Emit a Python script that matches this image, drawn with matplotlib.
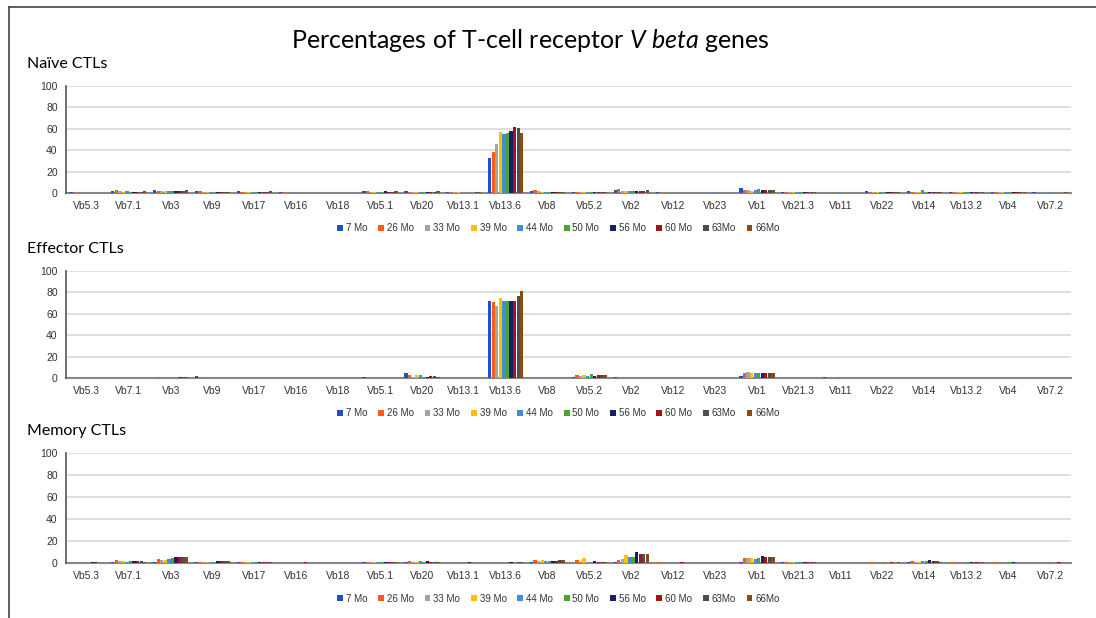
import matplotlib.pyplot as plt
import numpy as np
from matplotlib.lines import Line2D

plt.rcParams['font.family'] = ['Liberation Sans', 'DejaVu Sans']
plt.rcParams['mathtext.fontset'] = 'custom'
plt.rcParams['mathtext.rm'] = 'Lato'
plt.rcParams['mathtext.it'] = 'Lato:italic'

genes = ['Vb5.3', 'Vb7.1', 'Vb3', 'Vb9', 'Vb17', 'Vb16', 'Vb18', 'Vb5.1', 'Vb20',
         'Vb13.1', 'Vb13.6', 'Vb8', 'Vb5.2', 'Vb2', 'Vb12', 'Vb23', 'Vb1', 'Vb21.3',
         'Vb11', 'Vb22', 'Vb14', 'Vb13.2', 'Vb4', 'Vb7.2']
timepoints = ['7 Mo', '26 Mo', '33 Mo', '39 Mo', '44 Mo', '50 Mo', '56 Mo', '60 Mo', '63Mo', '66Mo']
colors = ['#1F4FCC', '#FF5A1A', '#A5A5A5', '#FFC000', '#3C8FE0', '#4CA62E',
          '#14206B', '#A31515', '#4A4F55', '#8B4A12']

# rows = genes, columns = timepoints
naive = np.array([
    [0.5, 0.5, 0.3, 0.3, 0.3, 0.3, 0.3, 0.3, 0.3, 0.3],   # Vb5.3
    [2, 3, 1.5, 1, 1.5, 1, 1, 1, 1, 2],                   # Vb7.1
    [3, 2, 1.5, 1.5, 1.5, 1.5, 2, 2, 1.5, 2.5],           # Vb3
    [1.5, 1.5, 1, 1, 1, 0.5, 1, 1, 0.5, 1],               # Vb9
    [1.5, 1, 1, 1, 1, 0.5, 1, 1, 1, 1.5],                 # Vb17
    [0.5, 0.5, 0.3, 0.3, 0.5, 0.3, 0.3, 0.3, 0.3, 0.3],   # Vb16
    [0.1, 0.1, 0.1, 0.1, 0.1, 0.1, 0.1, 0.1, 0.1, 0.1],   # Vb18
    [1.5, 1.5, 1, 1, 1, 1, 1.5, 1, 1, 1.5],               # Vb5.1
    [2, 1, 1, 0.5, 1, 1, 1, 1, 1, 2],                     # Vb20
    [1, 1, 0.5, 0.5, 0.3, 0.3, 0.3, 0.3, 0.5, 0.5],       # Vb13.1
    [33, 38, 46, 57, 55, 56, 58, 62, 61, 56],             # Vb13.6
    [2, 3, 1.5, 1, 1, 1, 1, 1, 1, 1],                     # Vb8
    [0.5, 1, 1, 1, 1, 1, 0.5, 0.5, 0.5, 0.5],             # Vb5.2
    [3, 4, 2, 2, 2, 2, 2, 2, 2, 3],                       # Vb2
    [0.5, 0.5, 0.3, 0.3, 0.3, 0.3, 0.3, 0.3, 0.3, 0.3],   # Vb12
    [0.3, 0.3, 0.2, 0.2, 1, 0.2, 0.2, 0.2, 0.2, 0.2],     # Vb23
    [5, 3, 2.5, 2, 2.5, 3.5, 3, 2.5, 2.5, 2.5],           # Vb1
    [1, 1, 0.5, 0.5, 0.5, 0.5, 0.5, 0.5, 0.5, 0.5],       # Vb21.3
    [0.1, 0.1, 0.1, 0.1, 0.5, 0.1, 0.1, 0.1, 0.1, 0.1],   # Vb11
    [1.5, 1, 1, 1, 0.5, 0.5, 0.5, 0.5, 0.5, 1],           # Vb22
    [2, 1, 1, 1, 2.5, 1, 1, 1, 1, 1],                     # Vb14
    [1, 0.5, 0.5, 0.5, 0.5, 0.5, 0.5, 0.5, 0.5, 0.5],     # Vb13.2
    [1, 0.5, 0.5, 0.5, 1, 0.5, 0.5, 0.5, 0.5, 0.5],       # Vb4
    [0.5, 0.3, 0.3, 0.3, 0.5, 0.3, 0.3, 0.3, 0.3, 0.5],   # Vb7.2
])

effector = np.array([
    [0, 0, 0, 0, 0, 0, 0, 0, 0, 0],                       # Vb5.3
    [0, 0, 0, 0, 0, 0, 0, 0, 0, 0],                       # Vb7.1
    [0.3, 0.5, 0.3, 0.3, 0.3, 0.3, 0.3, 0.5, 0.5, 0.5],   # Vb3
    [1.5, 0.5, 0.3, 0.3, 0.3, 0.3, 0.3, 0.3, 0.3, 0.3],   # Vb9
    [0, 0, 0, 0, 0, 0, 0, 0, 0, 0],                       # Vb17
    [0, 0, 0, 0, 0, 0, 0, 0, 0, 0],                       # Vb16
    [0, 0, 0, 0, 0, 0, 0, 0, 0, 0],                       # Vb18
    [1, 0.3, 0.2, 0.2, 0.2, 0.2, 0.2, 0.2, 0.3, 0.3],     # Vb5.1
    [5, 3, 1, 3, 3, 0.5, 0.5, 2, 2, 1],                   # Vb20
    [0, 0, 0, 0, 0, 0, 0, 0, 0, 0],                       # Vb13.1
    [72, 71, 67, 75, 72, 72, 72, 72, 77, 81],             # Vb13.6
    [0, 0, 0, 0, 0, 0, 0, 0, 0, 0],                       # Vb8
    [0.5, 3, 2, 3, 2, 4, 2, 3, 3, 3],                     # Vb5.2
    [0.5, 0.3, 0.2, 0.2, 0.2, 0.2, 0.2, 0.2, 0.3, 0.3],   # Vb2
    [0, 0, 0, 0, 0, 0, 0, 0, 0, 0],                       # Vb12
    [0, 0, 0, 0, 0.2, 0, 0, 0, 0, 0],                     # Vb23
    [2, 5, 6, 5, 5, 5, 5, 5, 5, 5],                       # Vb1
    [0, 0, 0, 0, 0, 0, 0, 0, 0, 0],                       # Vb21.3
    [0.5, 0, 0, 0, 0.5, 0, 0, 0, 0, 0],                   # Vb11
    [0, 0, 0, 0, 0, 0, 0, 0, 0, 0],                       # Vb22
    [0, 0, 0, 0, 0, 0, 0, 0, 0, 0],                       # Vb14
    [0, 0, 0, 0, 0, 0, 0, 0, 0, 0],                       # Vb13.2
    [0, 0, 0, 0, 0, 0, 0, 0, 0, 0],                       # Vb4
    [0, 0, 0, 0, 0, 0, 0, 0, 0, 0],                       # Vb7.2
])

memory = np.array([
    [0.2, 0.2, 0.2, 0.2, 0.2, 0.2, 0.5, 0.5, 0.2, 0.2],   # Vb5.3
    [0.5, 3, 1.5, 1.5, 1, 1.5, 2, 2, 1.5, 1],             # Vb7.1
    [0.5, 4, 3, 2.5, 3.5, 4.5, 5, 5, 5, 5],               # Vb3
    [0.5, 1, 1, 0.5, 1, 0.5, 1.5, 1.5, 1.5, 2],           # Vb9
    [1, 1, 0.5, 0.5, 0.5, 0.5, 1, 0.5, 0.5, 0.5],         # Vb17
    [0.2, 0.2, 0.2, 0.2, 0.2, 0.2, 0.2, 0.5, 0.2, 0.2],   # Vb16
    [0, 0, 0, 0, 0, 0, 0, 0, 0, 0],                       # Vb18
    [0.5, 1, 0.5, 0.5, 0.5, 0.5, 1, 1, 0.5, 0.5],         # Vb5.1
    [0.5, 1.5, 1, 1, 1.5, 1, 1.5, 1, 1, 0.5],             # Vb20
    [0.2, 0.2, 0.2, 0.2, 0.2, 0.2, 0.5, 0.2, 0.2, 0.2],   # Vb13.1
    [0.2, 0.2, 0.2, 0.2, 0.2, 0.2, 0.5, 0.2, 0.5, 0.5],   # Vb13.6
    [0.5, 2.5, 2, 2.5, 1.5, 1.5, 1.5, 2, 3, 3],           # Vb8
    [0.3, 3, 0.3, 4.5, 0.3, 0.3, 2, 1, 1, 0.5],           # Vb5.2
    [0.5, 3, 4, 7, 5, 5, 10, 8, 8, 8],                    # Vb2
    [0.2, 0.5, 0.2, 0.2, 0.2, 0.2, 0.2, 0.5, 0.2, 0.2],   # Vb12
    [0.1, 0.1, 0.1, 0.1, 0.1, 0.1, 0.1, 0.1, 0.1, 0.1],   # Vb23
    [0.5, 4.5, 4.5, 4.5, 4, 4.5, 6, 5.5, 5.5, 5.5],       # Vb1
    [0.5, 1, 0.5, 0.5, 0.5, 0.5, 0.5, 0.5, 0.5, 0.5],     # Vb21.3
    [0, 0, 0, 0, 0, 0, 0, 0, 0, 0],                       # Vb11
    [0.3, 0.5, 0.3, 0.3, 0.3, 0.5, 0.3, 0.5, 0.3, 0.5],   # Vb22
    [0.5, 1.5, 0.5, 1, 1.5, 2, 2.5, 2, 1.5, 1],           # Vb14
    [0.3, 0.5, 0.3, 0.3, 0.3, 0.5, 1, 0.5, 0.5, 0.5],     # Vb13.2
    [0.3, 0.5, 0.3, 0.3, 0.3, 0.5, 0.5, 0.3, 0.3, 0.3],   # Vb4
    [0.2, 0.2, 0.2, 0.2, 0.5, 0.2, 0.2, 0.5, 0.2, 0.2],   # Vb7.2
])

panels = [('Naïve CTLs', naive), ('Effector CTLs', effector), ('Memory CTLs', memory)]
# (bottom, height) of each axes in figure fractions
boxes = [(0.6877, 0.1731), (0.3883, 0.1731), (0.089, 0.178)]

fig = plt.figure(figsize=(10.96, 6.18), dpi=100)
fig.patch.set_facecolor('white')

fig.text(0.484, 0.935, r'Percentages of T-cell receptor $V\ beta$ genes',
         ha='center', va='center', fontsize=18, family='Lato')

x = np.arange(len(genes))
n = len(timepoints)
group_w = 0.85
bw = group_w / n

for (label, data), (b, h) in zip(panels, boxes):
    ax = fig.add_axes([0.0602, b, 0.917, h])
    ax.set_axisbelow(True)
    for i in range(n):
        ax.bar(x - group_w / 2 + bw * (i + 0.5), data[:, i], width=bw * 0.92,
               color=colors[i], label=timepoints[i], zorder=3)
    ax.set_xlim(-0.5, len(genes) - 0.5)
    ax.set_ylim(0, 100)
    ax.set_yticks([0, 20, 40, 60, 80, 100])
    ax.set_xticks(x)
    ax.set_xticklabels(genes, fontsize=7.5, color='#333333')
    ax.tick_params(axis='y', labelsize=7.5, colors='#333333', length=0, pad=6)
    ax.tick_params(axis='x', length=0, pad=6)
    ax.yaxis.grid(True, color='#D9D9D9', linewidth=1.2, zorder=0)
    for s in ['top', 'right']:
        ax.spines[s].set_visible(False)
    ax.spines['left'].set_color('#555555')
    ax.spines['left'].set_linewidth(1.2)
    ax.spines['bottom'].set_color('#888888')
    ax.spines['bottom'].set_linewidth(1.5)
    ax.spines['bottom'].set_zorder(2)
    fig.text(0.025, b + h + 0.035, label, fontsize=11.5, family='Lato',
             ha='left', va='center')
    ax.legend(loc='upper center', bbox_to_anchor=(0.49, -0.2), ncol=n,
              frameon=False, fontsize=7, handlelength=0.6, handleheight=0.6,
              handletextpad=0.3, columnspacing=1.1, labelcolor='#333333')

# partial frame (top and left) around the figure
fig.add_artist(Line2D([9 / 1096, 1], [1 - 7 / 618, 1 - 7 / 618],
                      color='#444444', linewidth=1.2))
fig.add_artist(Line2D([9 / 1096, 9 / 1096], [0, 1 - 7 / 618],
                      color='#444444', linewidth=1.2))

fig.savefig('out.png', dpi=100)
